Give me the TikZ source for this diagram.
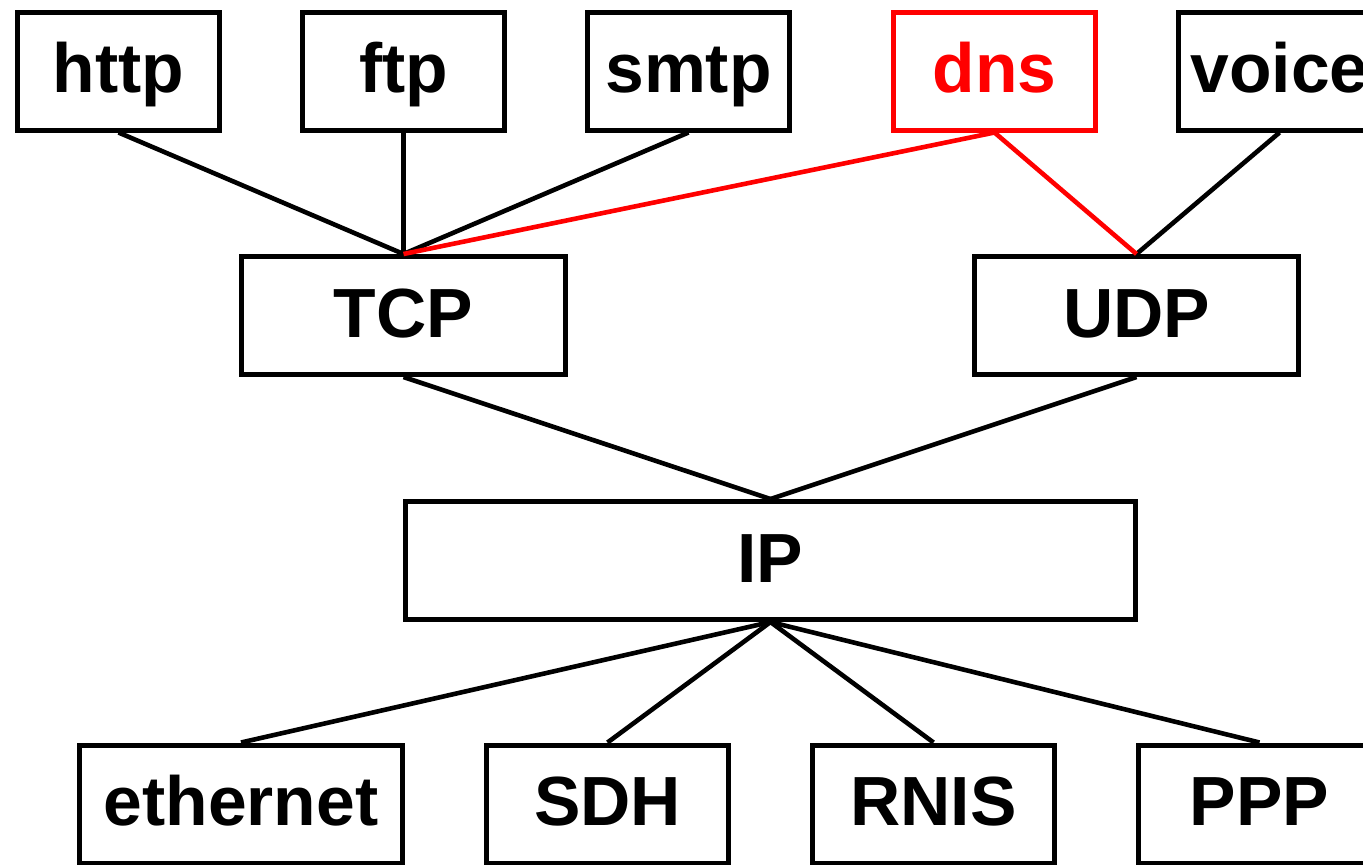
\documentclass[tikz,border=0pt]{standalone}
\usepackage{fontspec}
\setmainfont{Liberation Sans}
\begin{document}
\begin{tikzpicture}[x=0.5pt,y=-0.5pt,
  box/.style={draw,line width=2.5pt,inner sep=0pt,text height=21.5pt,text depth=0pt,
    minimum height=59pt,font=\fontsize{34.8}{40}\selectfont\bfseries},
  sbox/.style={box,minimum width=101pt},
  wbox/.style={box,minimum width=162pt},
  bbox/.style={box,minimum width=121pt},
  conn/.style={line width=2.3pt},
  red conn/.style={line width=2.3pt,draw=red}]
\clip (0,0) rectangle (1363,864);
\useasboundingbox (0,0) rectangle (1363,864);
\node[sbox] (http) at (118.5,71) {http};
\node[sbox] (ftp) at (403.5,71) {ftp};
\node[sbox] (smtp) at (688.5,71) {smtp};
\node[sbox,draw=red,text=red] (dns) at (994.5,71) {dns};
\node[sbox] (voice) at (1279.5,71) {voice};
\node[wbox] (tcp) at (403.5,315.5) {TCP};
\node[wbox] (udp) at (1136.5,315.5) {UDP};
\node[box,minimum width=365pt] (ip) at (770.5,560.5) {IP};
\node[wbox,minimum width=161.5pt] (eth) at (241,804) {ethernet};
\node[bbox] (sdh) at (607.5,804) {SDH};
\node[bbox] (rnis) at (933.5,804) {RNIS};
\node[bbox] (ppp) at (1259.5,804) {PPP};
\draw[conn] (http.south) -- (tcp.north);
\draw[conn] (ftp.south) -- (tcp.north);
\draw[conn] (smtp.south) -- (tcp.north);
\draw[conn] (voice.south) -- (udp.north);
\draw[conn] (tcp.south) -- (ip.north);
\draw[conn] (udp.south) -- (ip.north);
\draw[conn] (ip.south) -- (eth.north);
\draw[conn] (ip.south) -- (sdh.north);
\draw[conn] (ip.south) -- (rnis.north);
\draw[conn] (ip.south) -- (ppp.north);
\draw[red conn] (dns.south) -- (tcp.north);
\draw[red conn] (dns.south) -- (udp.north);
\end{tikzpicture}
\end{document}
